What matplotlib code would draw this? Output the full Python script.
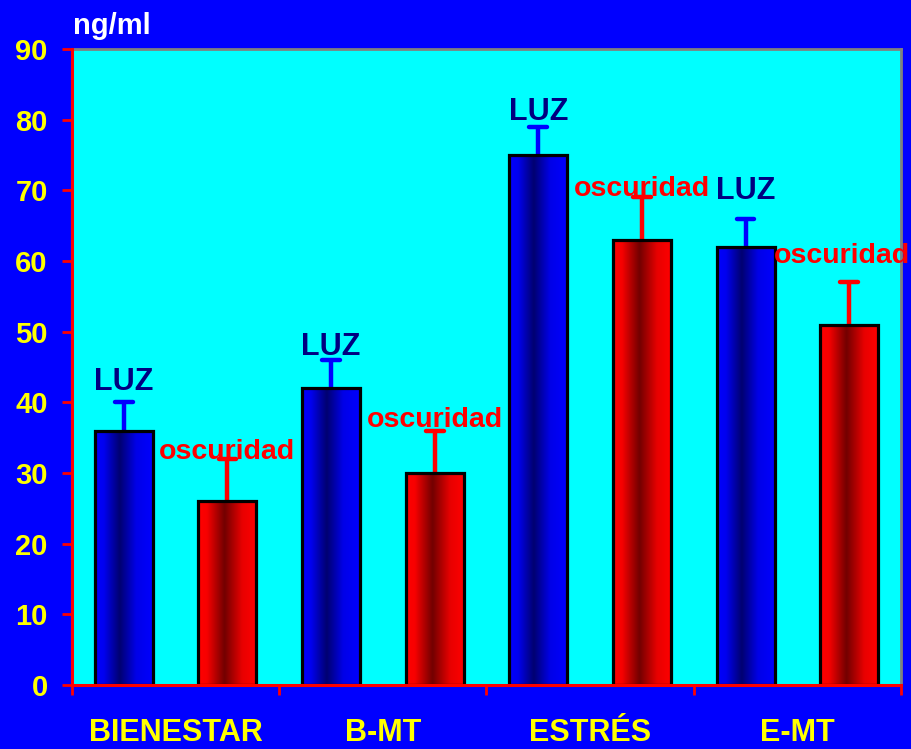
import numpy as np
import matplotlib.pyplot as plt
from matplotlib.colors import LinearSegmentedColormap
from matplotlib.patches import Rectangle

plt.rcParams['font.family'] = ['Liberation Sans', 'DejaVu Sans']
plt.rcParams['font.weight'] = 'bold'

# grupos y medias (ng/ml)
groups = ['BIENESTAR', 'B-MT', 'ESTRÉS', 'E-MT']
luz = [36, 42, 75, 62]
luz_err = [4, 4, 4, 4]
osc = [26, 30, 63, 51]
osc_err = [6, 6, 6, 6]
yticks = [0, 10, 20, 30, 40, 50, 60, 70, 80, 90]

# altura extra de las etiquetas sobre el error
luz_lab_off = [0.8, -0.3, 0.0, 1.8]
osc_lab_off = [-0.9, -0.3, -0.7, 1.9]
osc_lab_dx = [0, 0, 0, -0.035]

blue_cm = LinearSegmentedColormap.from_list(
    'azul', [(0.0, '#0000ff'), (0.15, '#0000f0'), (0.42, '#000070'),
             (0.7, '#0000e8'), (1.0, '#0000ff')])
red_cm = LinearSegmentedColormap.from_list(
    'rojo', [(0.0, '#ff0000'), (0.15, '#f80000'), (0.45, '#720000'),
             (0.75, '#e80000'), (1.0, '#ff0000')])

fig = plt.figure(figsize=(9.12, 7.49), dpi=100, facecolor='#0000ff')
ax = fig.add_axes([72 / 912, 64 / 749, 829 / 912, 636 / 749])
ax.set_facecolor('#00ffff')

width = 0.28
cap = 0.043
x = np.arange(len(groups))
grad = np.linspace(0, 1, 256).reshape(1, -1)


def gradient_bars(xc, vals, cmap):
    for xi, v in zip(xc, vals):
        x0 = xi - width / 2
        im = ax.imshow(grad, cmap=cmap, aspect='auto', extent=(x0, x0 + width, 0, v),
                       zorder=2, interpolation='bicubic')
        rect = Rectangle((x0, 0), width, v, facecolor='none', edgecolor='black',
                         linewidth=2.3, zorder=3)
        ax.add_patch(rect)
        im.set_clip_path(rect)


def up_errors(xc, vals, errs, color):
    for xi, v, e in zip(xc, vals, errs):
        ax.plot([xi, xi], [v, v + e], color=color, lw=3.2, zorder=1,
                solid_capstyle='butt')
        ax.plot([xi - cap, xi + cap], [v + e, v + e], color=color, lw=3.2,
                zorder=1, solid_capstyle='round')


xl = x + 0.25
xo = x + 0.75
up_errors(xl, luz, luz_err, '#0000ff')
up_errors(xo, osc, osc_err, '#ff0000')
gradient_bars(xl, luz, blue_cm)
gradient_bars(xo, osc, red_cm)

for i in range(len(groups)):
    ax.text(xl[i], luz[i] + luz_err[i] + luz_lab_off[i], 'LUZ', color='#000080',
            fontsize=22, fontweight='bold', ha='center', va='bottom', zorder=4)
    ax.text(xo[i] + osc_lab_dx[i], osc[i] + osc_err[i] + osc_lab_off[i], 'oscuridad',
            color='#ff0000', fontsize=20.5, fontweight='bold', ha='center',
            va='bottom', zorder=4, clip_on=False)

ax.set_xlim(0, len(groups))
ax.set_ylim(0, 90)
ax.set_yticks(yticks)
ax.set_xticks(np.arange(len(groups) + 1))
ax.set_xticklabels([])
ax.set_xticks(x + 0.5, minor=True)
ax.set_xticklabels(groups, minor=True)

ax.tick_params(axis='y', colors='#ff0000', labelcolor='#ffff00', labelsize=21,
               length=7.5, width=2, pad=10)
ax.tick_params(axis='x', which='major', colors='#ff0000', length=7.5, width=2,
               direction='out')
ax.tick_params(axis='x', which='minor', length=0, labelcolor='#ffff00',
               labelsize=22, pad=24)
for lab in ax.get_xticklabels(minor=True) + ax.get_yticklabels():
    lab.set_fontweight('bold')

ax.spines['left'].set_color('#ff0000')
ax.spines['bottom'].set_color('#ff0000')
ax.spines['left'].set_linewidth(2.2)
ax.spines['bottom'].set_linewidth(2.2)
ax.spines['top'].set_color('#808080')
ax.spines['right'].set_color('#808080')
ax.spines['top'].set_linewidth(2)
ax.spines['right'].set_linewidth(2)
ax.spines['left'].set_zorder(5)
ax.spines['bottom'].set_zorder(5)

fig.text(73 / 912, 1 - 12 / 749, 'ng/ml', color='white', fontsize=21,
         fontweight='bold', ha='left', va='top')

fig.savefig('out.png', dpi=100, facecolor=fig.get_facecolor())
